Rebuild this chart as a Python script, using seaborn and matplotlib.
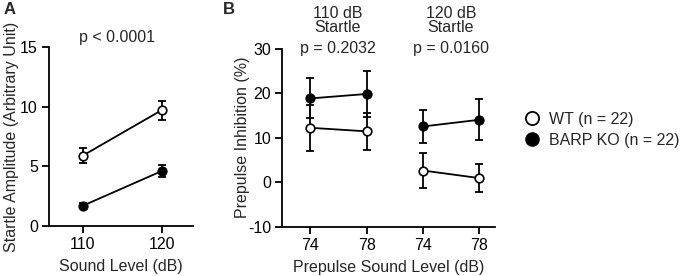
import pandas as pd
import matplotlib
matplotlib.use('Agg')
import matplotlib.pyplot as plt
from matplotlib.lines import Line2D
import seaborn as sns

# Panel A data
sound_levels = [110, 120]
wt_startle = [5.9, 9.7]
wt_startle_err = [0.6, 0.8]
ko_startle = [1.7, 4.6]
ko_startle_err = [0.2, 0.5]

# Panel B data (positions: 110 dB startle 74/78, 120 dB startle 74/78)
prepulse_labels = ['74', '78', '74', '78']
startle_group = ['110', '110', '120', '120']
wt_ppi = [12.2, 11.4, 2.6, 0.9]
wt_ppi_err = [5.2, 4.2, 3.9, 3.1]
ko_ppi = [18.8, 19.8, 12.5, 14.0]
ko_ppi_err = [4.5, 5.2, 3.8, 4.6]

sns.set_style('ticks')
plt.rcParams['font.family'] = ['Liberation Sans', 'DejaVu Sans']
plt.rcParams['font.size'] = 11.5
plt.rcParams['axes.unicode_minus'] = False

fig = plt.figure(figsize=(6.8, 2.76), dpi=100)
axA = fig.add_axes([0.072, 0.181, 0.212, 0.649])
axB = fig.add_axes([0.415, 0.179, 0.313, 0.645])

dfA = pd.DataFrame({
    'level': sound_levels * 2,
    'amp': wt_startle + ko_startle,
    'err': wt_startle_err + ko_startle_err,
    'geno': ['WT'] * 2 + ['KO'] * 2,
})

styles = {'WT': 'white', 'KO': 'black'}

for g, face in styles.items():
    sub = dfA[dfA['geno'] == g]
    axA.errorbar(sub['level'], sub['amp'], yerr=sub['err'], fmt='none',
                 ecolor='black', elinewidth=1.3, capsize=3, capthick=1.3, zorder=2)
    sns.lineplot(data=sub, x='level', y='amp', ax=axA, color='black', lw=1.3,
                 marker='o', markersize=6.2, markerfacecolor=face,
                 markeredgecolor='black', markeredgewidth=1.2, zorder=3)

axA.set_xlim(105.7, 124)
axA.set_ylim(0, 15)
axA.set_xticks(sound_levels)
axA.set_yticks([0, 5, 10, 15])
axA.set_xlabel('Sound Level (dB)', labelpad=5)
axA.set_ylabel('Startle Amplitude (Arbitrary Unit)')
axA.yaxis.set_label_coords(-0.205, 0.5)

dfB = pd.DataFrame({
    'pos': list(range(4)) * 2,
    'ppi': wt_ppi + ko_ppi,
    'err': wt_ppi_err + ko_ppi_err,
    'geno': ['WT'] * 4 + ['KO'] * 4,
    'startle': startle_group * 2,
})

for g, face in styles.items():
    for s in ['110', '120']:
        sub = dfB[(dfB['geno'] == g) & (dfB['startle'] == s)]
        axB.errorbar(sub['pos'], sub['ppi'], yerr=sub['err'], fmt='none',
                     ecolor='black', elinewidth=1.3, capsize=3, capthick=1.3, zorder=2)
        sns.lineplot(data=sub, x='pos', y='ppi', ax=axB, color='black', lw=1.3,
                     marker='o', markersize=6.2, markerfacecolor=face,
                     markeredgecolor='black', markeredgewidth=1.2, zorder=3)

axB.set_xlim(-0.5, 3.28)
axB.set_ylim(-10, 30)
axB.set_xticks(range(4))
axB.set_xticklabels(prepulse_labels)
axB.set_yticks([-10, 0, 10, 20, 30])
axB.set_xlabel('Prepulse Sound Level (dB)', labelpad=5)
axB.set_ylabel('Prepulse Inhibition (%)')
axB.yaxis.set_label_coords(-0.15, 0.5)

# annotations (figure fraction positions)
fig.text(117 / 680, 1 - 38 / 276, 'p < 0.0001', ha='center', va='center')
for xc, dbtxt, p in [(338, '110 dB', 'p = 0.2032'), (451, '120 dB', 'p = 0.0160')]:
    fig.text(xc / 680, 1 - 13 / 276, dbtxt, ha='center', va='center')
    fig.text(xc / 680, 1 - 28 / 276, 'Startle', ha='center', va='center')
    fig.text(xc / 680, 1 - 48 / 276, p, ha='center', va='center')

for ax in (axA, axB):
    sns.despine(ax=ax)
    for sp in ('left', 'bottom'):
        ax.spines[sp].set_linewidth(1.3)
        ax.spines[sp].set_color('black')
    ax.tick_params(direction='out', length=5, width=1.3, colors='black', labelsize=11.5, pad=3)
    ax.grid(False)

handles = [
    Line2D([], [], ls='none', marker='o', markersize=9.5, markerfacecolor='white',
           markeredgecolor='black', markeredgewidth=1.3, label='WT (n = 22)'),
    Line2D([], [], ls='none', marker='o', markersize=9.5, markerfacecolor='black',
           markeredgecolor='black', label='BARP KO (n = 22)'),
]
fig.legend(handles=handles, loc='center left', bbox_to_anchor=(0.768, 0.53),
           frameon=False, handletextpad=0.45, handlelength=1.2, labelspacing=0.35,
           fontsize=11.5, borderaxespad=0, borderpad=0)

fig.text(0.005, 0.964, 'A', fontweight='bold', fontsize=12, va='center')
fig.text(0.328, 0.964, 'B', fontweight='bold', fontsize=12, va='center')

fig.savefig('out.png', dpi=100)
